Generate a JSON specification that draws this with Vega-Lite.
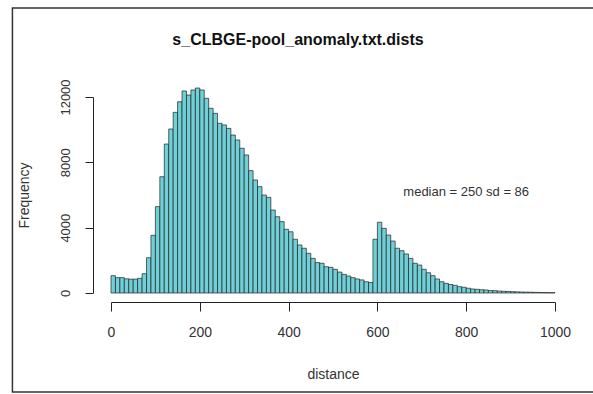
{
  "$schema": "https://vega.github.io/schema/vega-lite/v6.json",
  "width": 444,
  "height": 196,
  "autosize": {"type": "none"},
  "padding": {"left": 111, "top": 97, "right": 38, "bottom": 101},
  "background": "white",
  "config": {"view": {"stroke": null}, "font": "Liberation Sans"},
  "title": {"text": "s_CLBGE-pool_anomaly.txt.dists", "fontSize": 16, "fontWeight": "bold", "font": "Liberation Sans", "color": "#111", "anchor": "middle", "dx": -35, "offset": -41},
  "layer": [
    {
      "data": {"values": [{}]},
      "mark": {"type": "rect", "fill": "white", "fillOpacity": 0, "stroke": "#333", "strokeWidth": 1.5, "clip": false},
      "encoding": {
        "x": {"datum": -222, "type": "quantitative", "scale": {"domain": [0, 1000], "nice": false}},
        "x2": {"datum": 1200},
        "y": {"datum": 17450, "type": "quantitative", "scale": {"domain": [0, 12000], "nice": false}},
        "y2": {"datum": -6060}
      }
    },
    {
      "data": {"values": [
        {"start": 0, "end": 10, "count": 1060}, {"start": 10, "end": 20, "count": 940}, {"start": 20, "end": 30, "count": 940}, {"start": 30, "end": 40, "count": 870}, {"start": 40, "end": 50, "count": 850},
        {"start": 50, "end": 60, "count": 850}, {"start": 60, "end": 70, "count": 900}, {"start": 70, "end": 80, "count": 1180}, {"start": 80, "end": 90, "count": 2160}, {"start": 90, "end": 100, "count": 3530},
        {"start": 100, "end": 110, "count": 5290}, {"start": 110, "end": 120, "count": 7120}, {"start": 120, "end": 130, "count": 9120}, {"start": 130, "end": 140, "count": 10040}, {"start": 140, "end": 150, "count": 11060},
        {"start": 150, "end": 160, "count": 11710}, {"start": 160, "end": 170, "count": 12370}, {"start": 170, "end": 180, "count": 12120}, {"start": 180, "end": 190, "count": 12430}, {"start": 190, "end": 200, "count": 12550},
        {"start": 200, "end": 210, "count": 12430}, {"start": 210, "end": 220, "count": 11920}, {"start": 220, "end": 230, "count": 11310}, {"start": 230, "end": 240, "count": 11000}, {"start": 240, "end": 250, "count": 10390},
        {"start": 250, "end": 260, "count": 10290}, {"start": 260, "end": 270, "count": 10080}, {"start": 270, "end": 280, "count": 9670}, {"start": 280, "end": 290, "count": 9370}, {"start": 290, "end": 300, "count": 8860},
        {"start": 300, "end": 310, "count": 8450}, {"start": 310, "end": 320, "count": 7490}, {"start": 320, "end": 330, "count": 6920}, {"start": 330, "end": 340, "count": 6510}, {"start": 340, "end": 350, "count": 6000},
        {"start": 350, "end": 360, "count": 5860}, {"start": 360, "end": 370, "count": 5080}, {"start": 370, "end": 380, "count": 4670}, {"start": 380, "end": 390, "count": 4370}, {"start": 390, "end": 400, "count": 3900},
        {"start": 400, "end": 410, "count": 3750}, {"start": 410, "end": 420, "count": 3290}, {"start": 420, "end": 430, "count": 2940}, {"start": 430, "end": 440, "count": 2740}, {"start": 440, "end": 450, "count": 2430},
        {"start": 450, "end": 460, "count": 2120}, {"start": 460, "end": 470, "count": 1860}, {"start": 470, "end": 480, "count": 1820}, {"start": 480, "end": 490, "count": 1610}, {"start": 490, "end": 500, "count": 1570},
        {"start": 500, "end": 510, "count": 1450}, {"start": 510, "end": 520, "count": 1280}, {"start": 520, "end": 530, "count": 1140}, {"start": 530, "end": 540, "count": 1040}, {"start": 540, "end": 550, "count": 940},
        {"start": 550, "end": 560, "count": 860}, {"start": 560, "end": 570, "count": 800}, {"start": 570, "end": 580, "count": 690}, {"start": 580, "end": 590, "count": 640}, {"start": 590, "end": 600, "count": 3290},
        {"start": 600, "end": 610, "count": 4330}, {"start": 610, "end": 620, "count": 3960}, {"start": 620, "end": 630, "count": 3550}, {"start": 630, "end": 640, "count": 3180}, {"start": 640, "end": 650, "count": 2740},
        {"start": 650, "end": 660, "count": 2590}, {"start": 660, "end": 670, "count": 2390}, {"start": 670, "end": 680, "count": 2120}, {"start": 680, "end": 690, "count": 1820}, {"start": 690, "end": 700, "count": 1710},
        {"start": 700, "end": 710, "count": 1450}, {"start": 710, "end": 720, "count": 1240}, {"start": 720, "end": 730, "count": 1060}, {"start": 730, "end": 740, "count": 860}, {"start": 740, "end": 750, "count": 690},
        {"start": 750, "end": 760, "count": 590}, {"start": 760, "end": 770, "count": 520}, {"start": 770, "end": 780, "count": 470}, {"start": 780, "end": 790, "count": 390}, {"start": 790, "end": 800, "count": 350},
        {"start": 800, "end": 810, "count": 290}, {"start": 810, "end": 820, "count": 245}, {"start": 820, "end": 830, "count": 225}, {"start": 830, "end": 840, "count": 200}, {"start": 840, "end": 850, "count": 185},
        {"start": 850, "end": 860, "count": 150}, {"start": 860, "end": 870, "count": 140}, {"start": 870, "end": 880, "count": 120}, {"start": 880, "end": 890, "count": 105}, {"start": 890, "end": 900, "count": 95},
        {"start": 900, "end": 910, "count": 80}, {"start": 910, "end": 920, "count": 70}, {"start": 920, "end": 930, "count": 60}, {"start": 930, "end": 940, "count": 55}, {"start": 940, "end": 950, "count": 50},
        {"start": 950, "end": 960, "count": 40}, {"start": 960, "end": 970, "count": 35}, {"start": 970, "end": 980, "count": 30}, {"start": 980, "end": 990, "count": 25}, {"start": 990, "end": 1000, "count": 20}
      ]},
      "mark": {"type": "rect", "fill": "#6fd0d8", "stroke": "#222", "strokeWidth": 0.7, "clip": false},
      "encoding": {
        "x": {"field": "start", "type": "quantitative", "scale": {"domain": [0, 1000], "nice": false},
          "axis": {"title": "distance", "values": [0, 200, 400, 600, 800, 1000], "format": "d", "grid": false, "offset": 9, "tickSize": 9, "labelPadding": 14, "labelFontSize": 14, "titleFontSize": 14, "titleFontWeight": "normal", "titlePadding": 28, "domainColor": "#222", "tickColor": "#222", "labelColor": "#333", "titleColor": "#333", "labelFlush": false}},
        "x2": {"field": "end"},
        "y": {"field": "count", "type": "quantitative", "scale": {"domain": [0, 12000], "nice": false},
          "axis": {"title": "Frequency", "values": [0, 2000, 4000, 6000, 8000, 10000, 12000], "labelExpr": "datum.value % 4000 === 0 ? format(datum.value, 'd') : ''", "grid": false, "offset": 18, "tickSize": 8, "labelAngle": -90, "labelAlign": "center", "labelBaseline": "bottom", "labelPadding": 13, "labelFontSize": 13, "titleFontSize": 14, "titleFontWeight": "normal", "titlePadding": 28, "domainColor": "#222", "tickColor": "#222", "labelColor": "#333", "titleColor": "#333", "labelFlush": false, "labelOverlap": false}}
      }
    },
    {
      "data": {"values": [{}]},
      "mark": {"type": "text", "fontSize": 13, "color": "#333", "align": "center", "baseline": "middle", "font": "Liberation Sans"},
      "encoding": {
        "x": {"datum": 800, "type": "quantitative", "scale": {"domain": [0, 1000], "nice": false}},
        "y": {"datum": 6200, "type": "quantitative", "scale": {"domain": [0, 12000], "nice": false}},
        "text": {"value": "median = 250 sd = 86"}
      }
    }
  ]
}
